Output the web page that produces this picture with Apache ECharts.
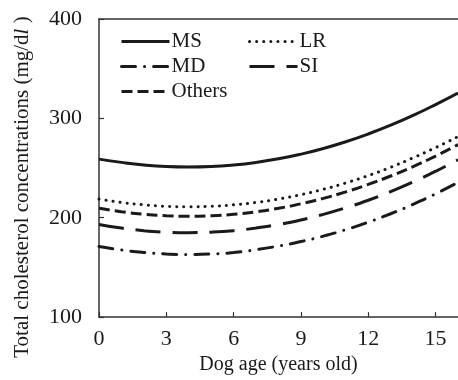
<!DOCTYPE html>
<html>
<head>
<meta charset="utf-8">
<script src="https://cdn.jsdelivr.net/npm/echarts@6/dist/echarts.min.js"></script>
<style>html,body{margin:0;padding:0;background:#fff}#c{width:458px;height:380px}</style>
</head>
<body>
<div id="c"></div>
<script>
var ages = [0,1,2,3,4,5,6,7,8,9,10,11,12,13,14,15,16];
var msValues = [259,255.7,253.1,251.5,251,251.5,253.1,255.7,259.3,264,269.7,276.5,284.3,293.1,303,313.9,325.5];
var lrValues = [218.8,215.4,213,211.5,211,211.5,213,215.4,218.8,223.2,228.6,235,242.4,250.8,260.3,270.6,281.6];
var othersValues = [209.5,206,203.5,202,201.5,202,203.5,206,209.5,214,219.5,226,233.5,242,251.5,262,273.5];
var siValues = [193.2,189.6,187,185.5,185,185.5,187,189.6,193.2,197.8,203.4,210,217.6,226.3,236,246.7,258.4];
var mdValues = [171,167.5,165,163.5,163,163.5,165,167.8,171.5,176,181.5,188,195.5,204,213.5,224,235.5];
var seriesNames = ['MS','LR','MD','SI','Others'];
var xTicks = [0,3,6,9,12,15];
var yTicks = [100,200,300,400];

function pairs(vals){ return ages.map(function(a,i){ return [a, vals[i]]; }); }

var ink = '#1a1a1a';
var font = 'Liberation Serif';
var styles = {
  MS: {type:'solid', cap:'butt'},
  LR: {type:[0.1,7], cap:'round'},
  MD: {type:[14,9,0.1,9], cap:'round'},
  SI: {type:[25,12], cap:'butt'},
  Others: {type:[11,5], cap:'butt'}
};
var dataMap = {MS: msValues, LR: lrValues, MD: mdValues, SI: siValues, Others: othersValues};
var legendPos = {
  MS: {left:120, top:31},
  LR: {left:248, top:31},
  MD: {left:120, top:56},
  SI: {left:248, top:56},
  Others: {left:120, top:81}
};

var chart = echarts.init(document.getElementById('c'), null, {renderer:'canvas'});
var option = {
  animation: false,
  backgroundColor: '#fff',
  grid: {left:99, top:19, right:0, bottom:61, containLabel:false},
  legend: seriesNames.map(function(n){
    return {
      show:true, data:[n], left:legendPos[n].left, top:legendPos[n].top,
      itemWidth:48, itemHeight:20, itemGap:0, padding:0,
      itemStyle:{color:'rgba(0,0,0,0)', borderColor:'rgba(0,0,0,0)', borderWidth:0},
      lineStyle:{color:ink, width:3, type:styles[n].type, cap:styles[n].cap},
      textStyle:{fontFamily:font, fontSize:21, color:ink, padding:[0,0,0,-3]}
    };
  }),
  xAxis: [{
    type:'value', min:0, max:16, interval:3,
    name:'Dog age (years old)', nameLocation:'middle', nameGap:36,
    nameTextStyle:{fontFamily:font, fontSize:20, color:ink},
    axisLine:{show:true, lineStyle:{color:'#333', width:1.5}},
    axisTick:{show:true, inside:true, length:5, lineStyle:{color:'#333', width:1.2}},
    axisLabel:{fontFamily:font, fontSize:22, color:ink, margin:11, showMaxLabel:false},
    splitLine:{show:false}
  },{
    type:'value', min:0, max:16, position:'top',
    axisLine:{show:true, lineStyle:{color:'#333', width:1.5}},
    axisTick:{show:false}, axisLabel:{show:false}, splitLine:{show:false}
  }],
  yAxis: {
    type:'value', min:100, max:400, interval:100,
    name:'Total cholesterol concentrations (mg/d{i|l} )', nameLocation:'middle', nameGap:66,
    nameTextStyle:{fontFamily:font, fontSize:21, color:ink, padding:[0,38,0,0],
      rich:{i:{fontFamily:font, fontSize:21, fontStyle:'italic', color:ink}}},
    axisLine:{show:true, lineStyle:{color:'#333', width:1.5}},
    axisTick:{show:true, inside:true, length:5, lineStyle:{color:'#333', width:1.2}},
    axisLabel:{fontFamily:font, fontSize:22, color:ink, margin:17},
    splitLine:{show:false}
  },
  series: seriesNames.map(function(n){
    return {
      name:n, type:'line', smooth:true, showSymbol:false, symbol:'none',
      data: pairs(dataMap[n]),
      lineStyle:{color:ink, width:3, type:styles[n].type, cap:styles[n].cap},
      itemStyle:{color:ink}
    };
  })
};
chart.setOption(option);
</script>
</body>
</html>
